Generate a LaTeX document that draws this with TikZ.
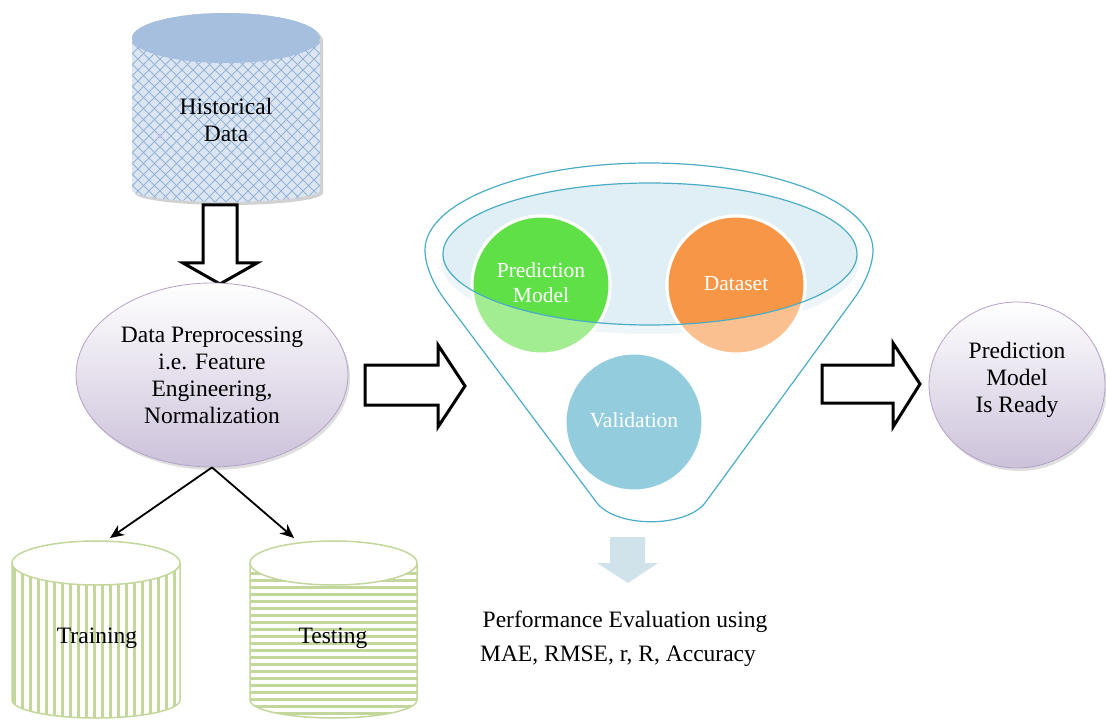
\documentclass[tikz,border=0pt]{standalone}
\usepackage{fontspec}
\setmainfont{Liberation Serif}
\usetikzlibrary{arrows.meta,shapes.geometric,shadows}
\definecolor{histbody}{HTML}{DCE6F2}
\definecolor{histtop}{HTML}{A7BFDE}
\definecolor{hatchc}{HTML}{95B3D7}
\definecolor{lav}{HTML}{CCC1DA}
\definecolor{lavb}{HTML}{B3A2C7}
\definecolor{stripe}{HTML}{C3D69B}
\definecolor{funnelc}{HTML}{4BACC6}
\definecolor{innerfill}{HTML}{E0EFF5}
\definecolor{ishadow}{HTML}{EEF6F9}
\definecolor{greenS}{HTML}{5EE046}
\definecolor{greenL}{HTML}{A2EC92}
\definecolor{orangeS}{HTML}{F79646}
\definecolor{orangeL}{HTML}{FAC08F}
\definecolor{valc}{HTML}{93CDDD}
\definecolor{perfarrow}{HTML}{D0E3EB}
\begin{document}
\begin{tikzpicture}[x=1pt,y=-1pt,
  lbl/.style={align=center,font=\fontsize{23.5}{27}\selectfont,text=black,inner sep=0pt},
  wlbl/.style={align=center,font=\fontsize{21.5}{25}\selectfont,text=white,inner sep=0pt},
  blockarrow/.style={draw=black,fill=white,line width=3pt,miter limit=10},
  conn/.style={draw=black,line width=1.8pt,-{Stealth[length=14pt,width=12pt]}},
  funnelline/.style={draw=funnelc,line width=1.2pt},
  hatch/.style={draw=hatchc,line width=0.8pt},
  stripeline/.style={draw=stripe,line width=3pt},
  oval/.style={ellipse,draw=lavb,line width=0.8pt,top color=white,bottom color=lav,
    drop shadow={shadow xshift=2pt,shadow yshift=-3pt,opacity=0.25}},
  blob/.style={draw=white,line width=3pt}
]
\useasboundingbox (0,0) rectangle (1106,722);

% ---------- Historical data cylinder ----------
\path[fill=black,opacity=0.18] (135,41) -- (135,193) arc[start angle=180,end angle=360,x radius=94pt,y radius=12pt] -- (323,41) arc[start angle=0,end angle=180,x radius=94pt,y radius=25pt] -- cycle;
\path[fill=histbody] (132,38) -- (132,190) arc[start angle=180,end angle=360,x radius=94pt,y radius=12pt] -- (320,38) arc[start angle=0,end angle=180,x radius=94pt,y radius=25pt] -- cycle;
\begin{scope}
\clip (132,38) -- (132,190) arc[start angle=180,end angle=360,x radius=94pt,y radius=12pt] -- (320,38) arc[start angle=0,end angle=180,x radius=94pt,y radius=25pt] -- cycle;
\foreach \k in {-240,-229,...,220} {
  \draw[hatch] ({132+\k},0) -- ++(240,240);
  \draw[hatch] ({320-\k},0) -- ++(-240,240);
}
\end{scope}
\path[fill=histtop] (226,38) ellipse[x radius=94pt,y radius=25pt];
\node[lbl] (hist) at (226,120) {Historical\\Data};

% down block arrow
\path[blockarrow] (203,205) -- (237,205) -- (237,263) -- (257,263) -- (220,284) -- (183,263) -- (203,263) -- cycle;

% ---------- Preprocessing ellipse ----------
\node[oval,minimum width=272pt,minimum height=184pt,inner sep=0pt] (prep) at (212,375) {};
\node[lbl] (preptext) at (212,375) {Data Preprocessing\\i.e. Feature\\Engineering,\\Normalization};

% ---------- Training cylinder ----------
\path[fill=white] (12,563) -- (12,700) arc[start angle=180,end angle=360,x radius=84pt,y radius=18pt] -- (180,563) arc[start angle=0,end angle=180,x radius=84pt,y radius=22pt] -- cycle;
\begin{scope}
\clip (12,563) -- (12,700) arc[start angle=180,end angle=360,x radius=84pt,y radius=18pt] -- (180,563) arc[start angle=0,end angle=180,x radius=84pt,y radius=22pt] -- cycle;
\foreach \k in {14,22,...,182} {
  \draw[stripeline] (\k,540) -- (\k,722);
}
\end{scope}
\draw[draw=stripe,line width=1.5pt] (12,563) -- (12,700) arc[start angle=180,end angle=360,x radius=84pt,y radius=18pt] -- (180,563);
\draw[draw=stripe,line width=1.5pt,fill=white] (96,563) ellipse[x radius=84pt,y radius=22pt];
\node[lbl] (train) at (97,638) {Training};

% ---------- Testing cylinder ----------
\path[fill=white] (250,563) -- (250,700) arc[start angle=180,end angle=360,x radius=83.5pt,y radius=18pt] -- (417,563) arc[start angle=0,end angle=180,x radius=83.5pt,y radius=22pt] -- cycle;
\begin{scope}
\clip (250,563) -- (250,700) arc[start angle=180,end angle=360,x radius=83.5pt,y radius=18pt] -- (417,563) arc[start angle=0,end angle=180,x radius=83.5pt,y radius=22pt] -- cycle;
\foreach \k in {566,573,...,722} {
  \draw[stripeline] (245,\k) -- (422,\k);
}
\end{scope}
\draw[draw=stripe,line width=1.5pt] (250,563) -- (250,700) arc[start angle=180,end angle=360,x radius=83.5pt,y radius=18pt] -- (417,563);
\draw[draw=stripe,line width=1.5pt,fill=white] (333.5,563) ellipse[x radius=83.5pt,y radius=22pt];
\node[lbl] (test) at (333,638) {Testing};

% connectors to training / testing
\coordinate (traintop) at (110,538);
\coordinate (testtop) at (294,538);
\draw[conn] (prep.south) -- (traintop);
\draw[conn] (prep.south) -- (testtop);

% right block arrow 1
\path[blockarrow] (365,365) -- (438,365) -- (438,345) -- (465,386) -- (438,427) -- (438,405) -- (365,405) -- cycle;

% ---------- Funnel ----------
\path[draw=funnelc,line width=1.2pt,fill=white] (597,503) -- (445,300) .. controls (433,284) and (425,265) .. (425,250)
  arc[start angle=180,end angle=0,x radius=224pt,y radius=87pt]
  .. controls (873,265) and (865,284) .. (853,300) -- (705,503)
  .. controls (685,528) and (617,528) .. (597,503) -- cycle;
\path[fill=ishadow] (650,262) ellipse[x radius=209pt,y radius=72pt];
\path[fill=innerfill] (650,254) ellipse[x radius=207pt,y radius=71pt];
\path[blob,fill=greenL] (541,285) circle[radius=69pt];
\path[blob,fill=orangeL] (736,285) circle[radius=69pt];
\begin{scope}
\clip (650,254) ellipse[x radius=207pt,y radius=71pt];
\path[blob,fill=greenS] (541,285) circle[radius=69pt];
\path[blob,fill=orangeS] (736,285) circle[radius=69pt];
\end{scope}
\path[blob,fill=valc] (634,422) circle[radius=69pt];
\draw[funnelline] (650,254) ellipse[x radius=207pt,y radius=71pt];
\node[wlbl] (pm) at (541,283) {Prediction\\Model};
\node[wlbl] (ds) at (736,284) {Dataset};
\node[wlbl] (val) at (634,420) {Validation};

% performance arrow + text
\path[fill=perfarrow] (610,537) -- (645,537) -- (645,563) -- (658,563) -- (628,583) -- (597,563) -- (610,563) -- cycle;
\node[lbl,anchor=base] (perf1) at (625,627) {Performance Evaluation using};
\node[lbl,anchor=base] (perf2) at (618,661) {MAE, RMSE, r, R, Accuracy};

% right block arrow 2
\path[blockarrow] (822,365) -- (893,365) -- (893,343) -- (920,384) -- (893,427) -- (893,403) -- (822,403) -- cycle;

% ---------- Ready ellipse ----------
\node[oval,minimum width=176pt,minimum height=166pt,inner sep=0pt] (ready) at (1017,385) {};
\node[lbl] (readytext) at (1017,380) {Prediction\\Model\\Is Ready};
\end{tikzpicture}
\end{document}
